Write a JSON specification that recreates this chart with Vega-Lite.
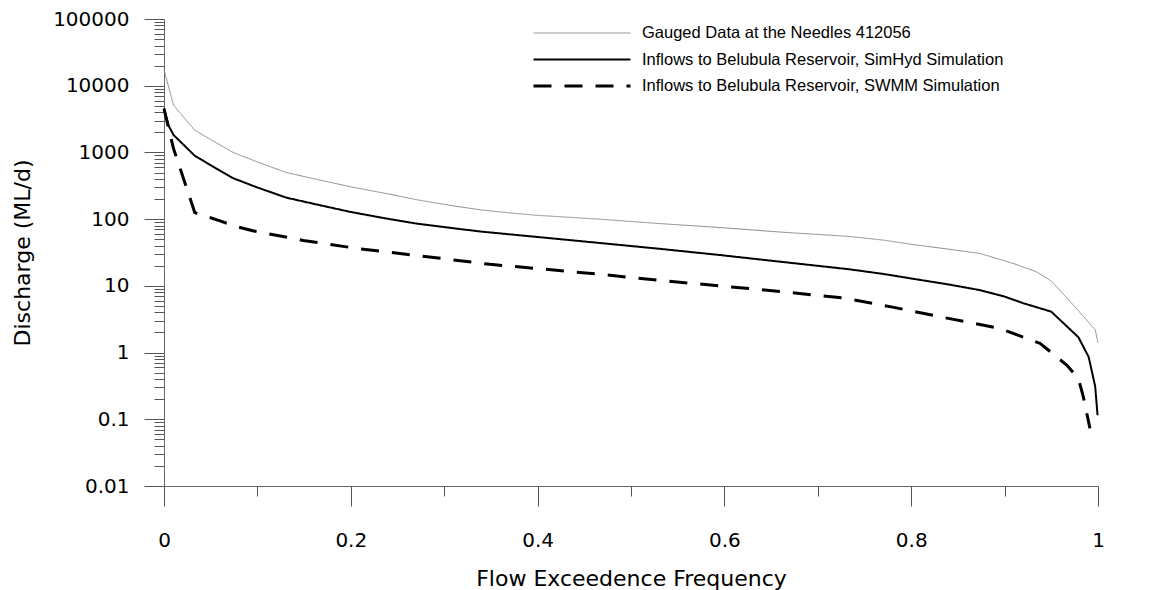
{
  "$schema": "https://vega.github.io/schema/vega-lite/v6.json",
  "width": 934,
  "height": 467,
  "autosize": {"type": "none"},
  "padding": {"left": 164, "top": 19, "right": 51, "bottom": 104},
  "background": "white",
  "config": {
    "view": {"stroke": null},
    "axis": {
      "grid": false,
      "labelFont": "DejaVu Sans",
      "labelFontSize": 20,
      "labelColor": "#000000",
      "titleFont": "DejaVu Sans",
      "titleFontSize": 22,
      "titleFontWeight": "normal",
      "titleColor": "#000000",
      "domainColor": "#666666",
      "tickColor": "#555555"
    }
  },
  "data": {
    "values": [
      {"s": "Gauged Data at the Needles 412056", "f": 0, "q": 17500},
      {"s": "Gauged Data at the Needles 412056", "f": 0.0102, "q": 5100},
      {"s": "Gauged Data at the Needles 412056", "f": 0.033, "q": 2150},
      {"s": "Gauged Data at the Needles 412056", "f": 0.05, "q": 1560},
      {"s": "Gauged Data at the Needles 412056", "f": 0.074, "q": 1000},
      {"s": "Gauged Data at the Needles 412056", "f": 0.1, "q": 720},
      {"s": "Gauged Data at the Needles 412056", "f": 0.131, "q": 500},
      {"s": "Gauged Data at the Needles 412056", "f": 0.165, "q": 390},
      {"s": "Gauged Data at the Needles 412056", "f": 0.2, "q": 305},
      {"s": "Gauged Data at the Needles 412056", "f": 0.24, "q": 239},
      {"s": "Gauged Data at the Needles 412056", "f": 0.27, "q": 196},
      {"s": "Gauged Data at the Needles 412056", "f": 0.31, "q": 158},
      {"s": "Gauged Data at the Needles 412056", "f": 0.34, "q": 137},
      {"s": "Gauged Data at the Needles 412056", "f": 0.37, "q": 124},
      {"s": "Gauged Data at the Needles 412056", "f": 0.4, "q": 114},
      {"s": "Gauged Data at the Needles 412056", "f": 0.466, "q": 100},
      {"s": "Gauged Data at the Needles 412056", "f": 0.53, "q": 86},
      {"s": "Gauged Data at the Needles 412056", "f": 0.6, "q": 74},
      {"s": "Gauged Data at the Needles 412056", "f": 0.66, "q": 64},
      {"s": "Gauged Data at the Needles 412056", "f": 0.734, "q": 55},
      {"s": "Gauged Data at the Needles 412056", "f": 0.77, "q": 48.5},
      {"s": "Gauged Data at the Needles 412056", "f": 0.8, "q": 42},
      {"s": "Gauged Data at the Needles 412056", "f": 0.84, "q": 35.5},
      {"s": "Gauged Data at the Needles 412056", "f": 0.874, "q": 30.5},
      {"s": "Gauged Data at the Needles 412056", "f": 0.91, "q": 21.5},
      {"s": "Gauged Data at the Needles 412056", "f": 0.934, "q": 16.3},
      {"s": "Gauged Data at the Needles 412056", "f": 0.95, "q": 11.8},
      {"s": "Gauged Data at the Needles 412056", "f": 0.975, "q": 4.9},
      {"s": "Gauged Data at the Needles 412056", "f": 0.997, "q": 2.2},
      {"s": "Gauged Data at the Needles 412056", "f": 1.0, "q": 1.4},
      {"s": "Inflows to Belubula Reservoir, SimHyd Simulation", "f": 0, "q": 4600},
      {"s": "Inflows to Belubula Reservoir, SimHyd Simulation", "f": 0.005, "q": 2500},
      {"s": "Inflows to Belubula Reservoir, SimHyd Simulation", "f": 0.0102, "q": 1830},
      {"s": "Inflows to Belubula Reservoir, SimHyd Simulation", "f": 0.033, "q": 890},
      {"s": "Inflows to Belubula Reservoir, SimHyd Simulation", "f": 0.05, "q": 643},
      {"s": "Inflows to Belubula Reservoir, SimHyd Simulation", "f": 0.074, "q": 411},
      {"s": "Inflows to Belubula Reservoir, SimHyd Simulation", "f": 0.1, "q": 298},
      {"s": "Inflows to Belubula Reservoir, SimHyd Simulation", "f": 0.131, "q": 210},
      {"s": "Inflows to Belubula Reservoir, SimHyd Simulation", "f": 0.165, "q": 164},
      {"s": "Inflows to Belubula Reservoir, SimHyd Simulation", "f": 0.2, "q": 128},
      {"s": "Inflows to Belubula Reservoir, SimHyd Simulation", "f": 0.24, "q": 101},
      {"s": "Inflows to Belubula Reservoir, SimHyd Simulation", "f": 0.27, "q": 86},
      {"s": "Inflows to Belubula Reservoir, SimHyd Simulation", "f": 0.31, "q": 73},
      {"s": "Inflows to Belubula Reservoir, SimHyd Simulation", "f": 0.34, "q": 65},
      {"s": "Inflows to Belubula Reservoir, SimHyd Simulation", "f": 0.4, "q": 54},
      {"s": "Inflows to Belubula Reservoir, SimHyd Simulation", "f": 0.466, "q": 44},
      {"s": "Inflows to Belubula Reservoir, SimHyd Simulation", "f": 0.53, "q": 36},
      {"s": "Inflows to Belubula Reservoir, SimHyd Simulation", "f": 0.595, "q": 29},
      {"s": "Inflows to Belubula Reservoir, SimHyd Simulation", "f": 0.66, "q": 23},
      {"s": "Inflows to Belubula Reservoir, SimHyd Simulation", "f": 0.734, "q": 17.7},
      {"s": "Inflows to Belubula Reservoir, SimHyd Simulation", "f": 0.77, "q": 15.1},
      {"s": "Inflows to Belubula Reservoir, SimHyd Simulation", "f": 0.8, "q": 12.9},
      {"s": "Inflows to Belubula Reservoir, SimHyd Simulation", "f": 0.84, "q": 10.5},
      {"s": "Inflows to Belubula Reservoir, SimHyd Simulation", "f": 0.874, "q": 8.6},
      {"s": "Inflows to Belubula Reservoir, SimHyd Simulation", "f": 0.9, "q": 6.9},
      {"s": "Inflows to Belubula Reservoir, SimHyd Simulation", "f": 0.92, "q": 5.5},
      {"s": "Inflows to Belubula Reservoir, SimHyd Simulation", "f": 0.95, "q": 4.1},
      {"s": "Inflows to Belubula Reservoir, SimHyd Simulation", "f": 0.979, "q": 1.7},
      {"s": "Inflows to Belubula Reservoir, SimHyd Simulation", "f": 0.99, "q": 0.86},
      {"s": "Inflows to Belubula Reservoir, SimHyd Simulation", "f": 0.997, "q": 0.31},
      {"s": "Inflows to Belubula Reservoir, SimHyd Simulation", "f": 0.9995, "q": 0.115},
      {"s": "Inflows to Belubula Reservoir, SWMM Simulation", "f": 0, "q": 4500},
      {"s": "Inflows to Belubula Reservoir, SWMM Simulation", "f": 0.0102, "q": 1140},
      {"s": "Inflows to Belubula Reservoir, SWMM Simulation", "f": 0.033, "q": 125},
      {"s": "Inflows to Belubula Reservoir, SWMM Simulation", "f": 0.06, "q": 94},
      {"s": "Inflows to Belubula Reservoir, SWMM Simulation", "f": 0.077, "q": 78},
      {"s": "Inflows to Belubula Reservoir, SWMM Simulation", "f": 0.095, "q": 67},
      {"s": "Inflows to Belubula Reservoir, SWMM Simulation", "f": 0.149, "q": 48},
      {"s": "Inflows to Belubula Reservoir, SWMM Simulation", "f": 0.209, "q": 36},
      {"s": "Inflows to Belubula Reservoir, SWMM Simulation", "f": 0.2755, "q": 28},
      {"s": "Inflows to Belubula Reservoir, SWMM Simulation", "f": 0.349, "q": 21},
      {"s": "Inflows to Belubula Reservoir, SWMM Simulation", "f": 0.3844, "q": 19},
      {"s": "Inflows to Belubula Reservoir, SWMM Simulation", "f": 0.4665, "q": 14.9},
      {"s": "Inflows to Belubula Reservoir, SWMM Simulation", "f": 0.53, "q": 12.1},
      {"s": "Inflows to Belubula Reservoir, SWMM Simulation", "f": 0.5986, "q": 9.9},
      {"s": "Inflows to Belubula Reservoir, SWMM Simulation", "f": 0.66, "q": 8.2},
      {"s": "Inflows to Belubula Reservoir, SWMM Simulation", "f": 0.727, "q": 6.6},
      {"s": "Inflows to Belubula Reservoir, SWMM Simulation", "f": 0.78, "q": 4.8},
      {"s": "Inflows to Belubula Reservoir, SWMM Simulation", "f": 0.831, "q": 3.44},
      {"s": "Inflows to Belubula Reservoir, SWMM Simulation", "f": 0.895, "q": 2.3},
      {"s": "Inflows to Belubula Reservoir, SWMM Simulation", "f": 0.938, "q": 1.37},
      {"s": "Inflows to Belubula Reservoir, SWMM Simulation", "f": 0.9665, "q": 0.65},
      {"s": "Inflows to Belubula Reservoir, SWMM Simulation", "f": 0.979, "q": 0.41},
      {"s": "Inflows to Belubula Reservoir, SWMM Simulation", "f": 0.9843, "q": 0.217},
      {"s": "Inflows to Belubula Reservoir, SWMM Simulation", "f": 0.9914, "q": 0.073}
    ]
  },
  "layer": [
    {
      "mark": {"type": "line", "strokeCap": "butt", "strokeJoin": "round"},
      "encoding": {
        "x": {
          "field": "f", "type": "quantitative",
          "scale": {"domain": [0, 1], "nice": false, "zero": false},
          "axis": {
            "orient": "bottom",
            "values": [0, 0.2, 0.4, 0.6, 0.8, 1],
            "tickSize": 20,
            "labelPadding": 24,
            "labelFlush": false,
            "labelExpr": "format(datum.value, '~g')",
            "title": "Flow Exceedence Frequency",
            "titleBaseline": "alphabetic",
            "titleAlign": "center",
            "titleX": 467,
            "titleY": 99
          }
        },
        "y": {
          "field": "q", "type": "quantitative",
          "scale": {"type": "log", "domain": [0.01, 100000], "nice": false},
          "axis": {
            "orient": "left",
            "values": [0.01, 0.1, 1, 10, 100, 1000, 10000, 100000],
            "tickSize": 20,
            "labelPadding": 15,
            "labelFlush": false,
            "labelExpr": "format(datum.value, '~g')",
            "title": "Discharge (ML/d)",
            "titleAngle": 270,
            "titleBaseline": "alphabetic",
            "titleAlign": "center",
            "titleX": -135,
            "titleY": 233.5
          }
        },
        "color": {
          "field": "s", "type": "nominal",
          "scale": {
            "domain": ["Gauged Data at the Needles 412056", "Inflows to Belubula Reservoir, SimHyd Simulation", "Inflows to Belubula Reservoir, SWMM Simulation"],
            "range": ["#8c8c8c", "#000000", "#000000"]
          },
          "legend": {
            "title": null, "orient": "none", "legendX": 368, "legendY": 4, "padding": 0,
            "symbolType": "stroke", "symbolSize": 9409, "clipHeight": 20, "rowPadding": 6.5,
            "labelFont": "Liberation Sans", "labelFontSize": 16.5, "labelColor": "#000000", "labelOffset": 10, "labelLimit": 600
          }
        },
        "strokeDash": {
          "field": "s", "type": "nominal",
          "scale": {
            "domain": ["Gauged Data at the Needles 412056", "Inflows to Belubula Reservoir, SimHyd Simulation", "Inflows to Belubula Reservoir, SWMM Simulation"],
            "range": [[1, 0], [1, 0], [18, 13]]
          },
          "legend": {
            "title": null, "orient": "none", "legendX": 368, "legendY": 4, "padding": 0,
            "symbolType": "stroke", "symbolSize": 9409, "clipHeight": 20, "rowPadding": 6.5,
            "labelFont": "Liberation Sans", "labelFontSize": 16.5, "labelColor": "#000000", "labelOffset": 10, "labelLimit": 600
          }
        },
        "strokeWidth": {
          "field": "s", "type": "nominal",
          "scale": {
            "domain": ["Gauged Data at the Needles 412056", "Inflows to Belubula Reservoir, SimHyd Simulation", "Inflows to Belubula Reservoir, SWMM Simulation"],
            "range": [1, 3, 3]
          },
          "legend": {
            "title": null, "orient": "none", "legendX": 368, "legendY": 4, "padding": 0,
            "symbolType": "stroke", "symbolSize": 9409, "clipHeight": 20, "rowPadding": 6.5,
            "labelFont": "Liberation Sans", "labelFontSize": 16.5, "labelColor": "#000000", "labelOffset": 10, "labelLimit": 600
          }
        }
      }
    },
    {
      "mark": {"type": "line", "opacity": 0},
      "encoding": {
        "x": {
          "field": "f", "type": "quantitative",
          "axis": {"orient": "bottom", "values": [0.1, 0.3, 0.5, 0.7, 0.9], "tickSize": 10, "labels": false, "domain": false, "title": null}
        },
        "y": {
          "field": "q", "type": "quantitative",
          "axis": {
            "orient": "left",
            "values": [0.02, 0.03, 0.04, 0.05, 0.06, 0.07, 0.08, 0.09, 0.2, 0.3, 0.4, 0.5, 0.6, 0.7, 0.8, 0.9, 2, 3, 4, 5, 6, 7, 8, 9, 20, 30, 40, 50, 60, 70, 80, 90, 200, 300, 400, 500, 600, 700, 800, 900, 2000, 3000, 4000, 5000, 6000, 7000, 8000, 9000, 20000, 30000, 40000, 50000, 60000, 70000, 80000, 90000],
            "tickSize": 10, "labels": false, "domain": false, "title": null
          }
        },
        "detail": {"field": "s", "type": "nominal"}
      }
    }
  ],
  "resolve": {"axis": {"x": "independent", "y": "independent"}}
}
